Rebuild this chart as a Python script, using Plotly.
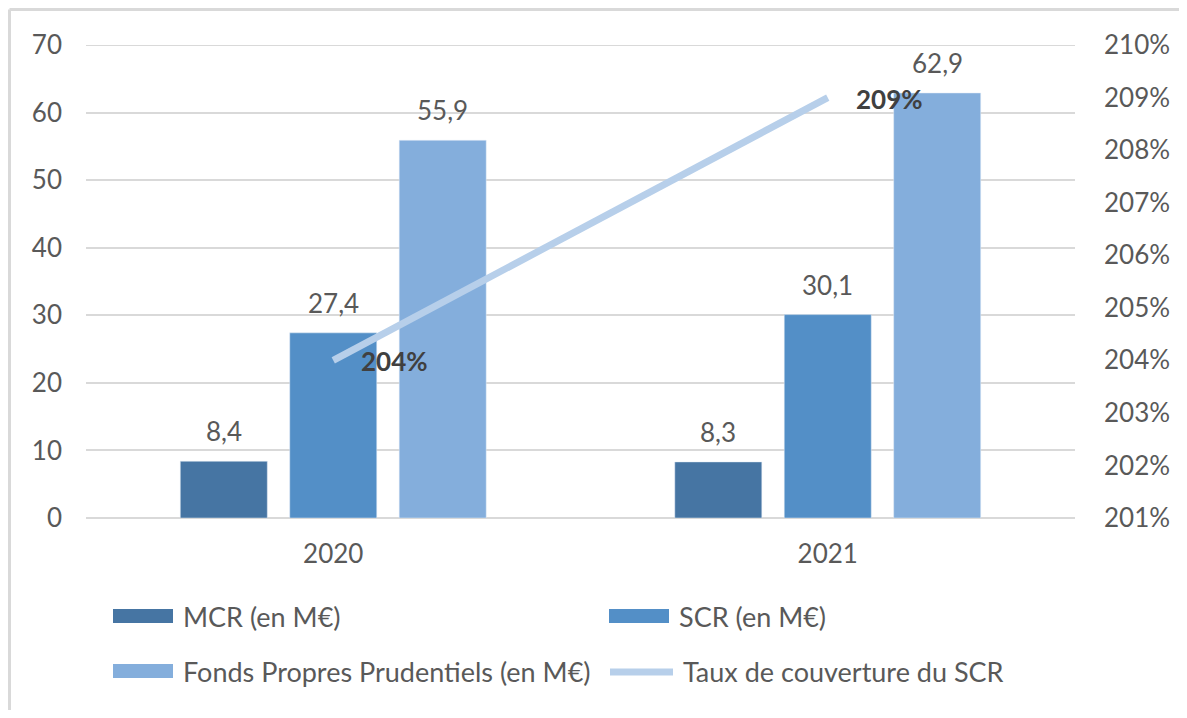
import plotly.graph_objects as go

years = ["2020", "2021"]
mcr = [8.4, 8.3]
scr = [27.4, 30.1]
fpp = [55.9, 62.9]
taux = [2.04, 2.09]

mcr_labels = ["8,4", "8,3"]
scr_labels = ["27,4", "30,1"]
fpp_labels = ["55,9", "62,9"]
taux_labels = ["204%", "209%"]

names = ["MCR (en M€)", "SCR (en M€)", "Fonds Propres Prudentiels (en M€)", "Taux de couverture du SCR"]
colors = ["#4675A3", "#538FC7", "#84AEDC", "#B7CFEA"]

FONT = "Lato"
GREY = "#595959"
FS = 26

W, H = 1171, 702
ML, MR, MT, MB = 78, 104, 37, 192
PW = W - ML - MR
PH = H - MT - MB
BARGAP = 0.336
BARGROUPGAP = 0.205

fig = go.Figure()
series = [(mcr, mcr_labels), (scr, scr_labels), (fpp, fpp_labels)]
for i, (vals, labs) in enumerate(series):
    fig.add_trace(go.Bar(x=years, y=vals, name=names[i], marker_color=colors[i],
                         showlegend=False, hoverinfo="y"))

fig.add_trace(go.Scatter(x=years, y=taux, name=names[3], mode="lines",
                         line=dict(color=colors[3], width=7), yaxis="y2", showlegend=False))

# bar value labels, placed above each bar of its group (x given as category index)
cat_px = PW / len(years)
slot_px = cat_px * (1 - BARGAP) / len(series)
for i, (vals, labs) in enumerate(series):
    off = (i - (len(series) - 1) / 2) * slot_px
    for ci, (yv, t) in enumerate(zip(vals, labs)):
        fig.add_annotation(x=ci, y=yv, text=t, showarrow=False, xanchor="center",
                           yanchor="bottom", xshift=off, yshift=12,
                           font=dict(size=FS, color=GREY, family=FONT))

for ci, (yv, t) in enumerate(zip(taux, taux_labels)):
    fig.add_annotation(x=ci, y=yv, yref="y2", text="<b>" + t + "</b>", showarrow=False,
                       xanchor="left", yanchor="middle", xshift=26, yshift=-1,
                       font=dict(size=FS, color="#404040", family=FONT))

# custom legend (pixel positions in the figure converted to paper units)
def px(x):
    return (x - ML) / PW

def py(y):
    return (H - MB - y) / PH

shapes = []
legend_items = [
    (105, 608, 0), (601, 608, 1),
    (105, 663, 2), (599, 663, 3),
]
for (lx, ly, k) in legend_items:
    if k < 3:
        shapes.append(dict(type="rect", xref="paper", yref="paper",
                           x0=px(lx), x1=px(lx + 60), y0=py(ly - 7), y1=py(ly + 7),
                           fillcolor=colors[k], line=dict(width=0)))
        tx = lx + 68
    else:
        shapes.append(dict(type="line", xref="paper", yref="paper",
                           x0=px(lx + 3), x1=px(lx + 66), y0=py(ly + 1), y1=py(ly + 1),
                           line=dict(color=colors[k], width=7)))
        tx = lx + 74
    fig.add_annotation(xref="paper", yref="paper", x=px(tx), y=py(ly), text=names[k],
                       showarrow=False, xanchor="left", yanchor="middle",
                       font=dict(size=27, color=GREY, family=FONT))

# top gridline at the axis max
shapes.append(dict(type="line", xref="paper", yref="y", x0=0, x1=1, y0=70, y1=70,
                   line=dict(color="#D9D9D9", width=2), layer="below"))
# chart border (left and top)
shapes.append(dict(type="line", xref="paper", yref="paper", x0=px(1.5), x1=px(W + 10),
                   y0=py(1.5), y1=py(1.5), line=dict(color="#D9D9D9", width=3)))
shapes.append(dict(type="line", xref="paper", yref="paper", x0=px(1.5), x1=px(1.5),
                   y0=py(1.5), y1=py(H + 10), line=dict(color="#D9D9D9", width=3)))

fig.update_layout(
    width=W, height=H,
    margin=dict(l=ML, r=MR, t=MT, b=MB, autoexpand=False),
    paper_bgcolor="white", plot_bgcolor="white",
    font=dict(family=FONT, size=FS, color=GREY),
    barmode="group", bargap=BARGAP, bargroupgap=BARGROUPGAP,
    showlegend=False,
    xaxis=dict(type="category", range=[-0.5, len(years) - 0.5], showgrid=False,
               showline=False, ticks="", ticklabelstandoff=18,
               tickfont=dict(size=FS, color=GREY)),
    yaxis=dict(range=[0, 70], dtick=10, showgrid=True, gridcolor="#D9D9D9", gridwidth=2,
               zeroline=True, zerolinecolor="#D9D9D9", zerolinewidth=2, showline=False,
               ticks="", ticklabelstandoff=23, tickfont=dict(size=FS, color=GREY)),
    yaxis2=dict(range=[2.01, 2.10], dtick=0.01, tickformat=".0%", overlaying="y", side="right",
                showgrid=False, zeroline=False, showline=False, ticks="",
                ticklabelstandoff=28, tickfont=dict(size=FS, color=GREY)),
    shapes=shapes,
)

fig.write_html("out.html")
